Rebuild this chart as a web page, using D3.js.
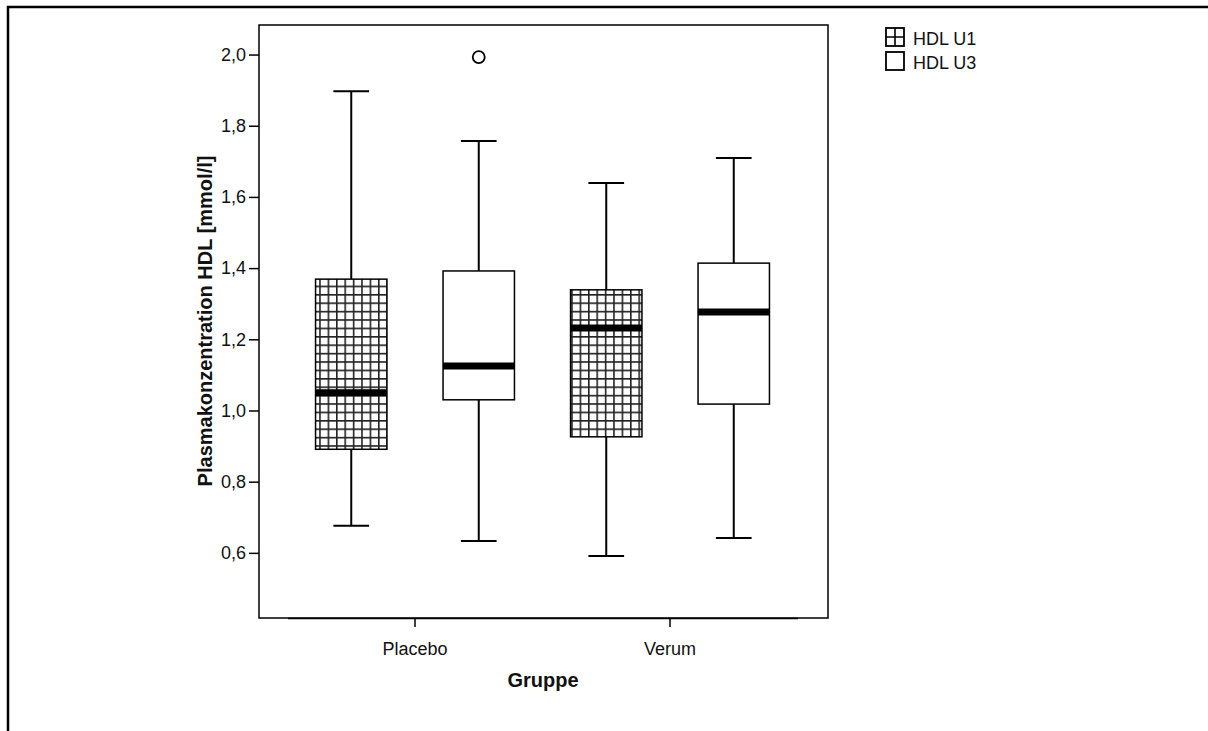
<!DOCTYPE html>
<html>
<head>
<meta charset="utf-8">
<script src="https://cdn.jsdelivr.net/npm/d3@7"></script>
<style>
body{margin:0;background:#fff}
text{font-family:Arial,"Liberation Sans",sans-serif;fill:#111}
</style>
</head>
<body>
<svg width="1208" height="731"></svg>
<script>
// data
const groups = ["Placebo", "Verum"];
const series = ["HDL U1", "HDL U3"];
const boxGroup = ["Placebo", "Placebo", "Verum", "Verum"];
const boxSeries = ["HDL U1", "HDL U3", "HDL U1", "HDL U3"];
const whiskerLow = [0.676, 0.633, 0.591, 0.642];
const q1 = [0.891, 1.030, 0.926, 1.018];
const median = [1.050, 1.125, 1.232, 1.277];
const q3 = [1.369, 1.392, 1.339, 1.414];
const whiskerHigh = [1.897, 1.757, 1.639, 1.709];
const outlierGroup = ["Placebo"];
const outlierSeries = ["HDL U3"];
const outlierValue = [1.993];
const yTicks = [0.6, 0.8, 1.0, 1.2, 1.4, 1.6, 1.8, 2.0];

const svg = d3.select("svg");
const font = "Arial, 'Liberation Sans', sans-serif";

// hatch pattern for U1
const defs = svg.append("defs");
const pat = defs.append("pattern").attr("id","grid")
  .attr("patternUnits","userSpaceOnUse").attr("width",8.4).attr("height",8.4);
pat.append("rect").attr("width",8.4).attr("height",8.4).attr("fill","#fff");
pat.append("path").attr("d","M0.8,0V8.4M0,0.8H8.4").attr("stroke","#222").attr("stroke-width",1.6);

const fills = {"HDL U1":"url(#grid)", "HDL U3":"#fff"};

// outer frame
svg.append("path").attr("d","M8,731V7H1208").attr("fill","none").attr("stroke","#000").attr("stroke-width",2.5);

const y = d3.scaleLinear().domain([0.417, 2.083]).range([618, 25]);
const x = d3.scaleBand().domain(groups).range([287.5, 797.5]);
const xs = d3.scaleBand().domain(series).range([0, x.bandwidth()]).paddingInner(0.44).paddingOuter(0.22);

// plot frame
svg.append("rect").attr("x",259).attr("y",25).attr("width",569).attr("height",593)
  .attr("fill","none").attr("stroke","#000").attr("stroke-width",1.5);

const yAxis = d3.axisLeft(y).tickValues(yTicks).tickSize(10).tickPadding(3)
  .tickFormat(d=>d3.format(".1f")(d).replace(".",","));
const gy = svg.append("g").attr("transform","translate(259,0)").call(yAxis);
gy.select(".domain").remove();
gy.selectAll("line").attr("stroke","#000").attr("stroke-width",1.5);
gy.selectAll("text").style("font-size","18px").style("font-family",font).attr("fill","#111");

const xAxis = d3.axisBottom(x).tickSize(9).tickSizeOuter(0).tickPadding(15);
const gx = svg.append("g").attr("transform","translate(0,618)").call(xAxis);
gx.select(".domain").attr("stroke","#000").attr("stroke-width",1.5);
gx.selectAll("line").attr("stroke","#000").attr("stroke-width",1.5);
gx.selectAll("text").style("font-size","18px").style("font-family",font).attr("fill","#111");

// boxes
const cx = i => x(boxGroup[i]) + xs(boxSeries[i]) + xs.bandwidth()/2;
const bw = xs.bandwidth();
const boxes = svg.append("g").selectAll("g").data(d3.range(boxGroup.length)).join("g");

boxes.append("line").attr("x1",cx).attr("x2",cx)
  .attr("y1",i=>y(whiskerHigh[i])).attr("y2",i=>y(q3[i]))
  .attr("stroke","#000").attr("stroke-width",2);
boxes.append("line").attr("x1",cx).attr("x2",cx)
  .attr("y1",i=>y(q1[i])).attr("y2",i=>y(whiskerLow[i]))
  .attr("stroke","#000").attr("stroke-width",2);
boxes.append("line").attr("x1",i=>cx(i)-bw/4).attr("x2",i=>cx(i)+bw/4)
  .attr("y1",i=>y(whiskerHigh[i])).attr("y2",i=>y(whiskerHigh[i]))
  .attr("stroke","#000").attr("stroke-width",2);
boxes.append("line").attr("x1",i=>cx(i)-bw/4).attr("x2",i=>cx(i)+bw/4)
  .attr("y1",i=>y(whiskerLow[i])).attr("y2",i=>y(whiskerLow[i]))
  .attr("stroke","#000").attr("stroke-width",2);
boxes.append("rect").attr("x",i=>cx(i)-bw/2).attr("width",bw)
  .attr("y",i=>y(q3[i])).attr("height",i=>y(q1[i])-y(q3[i]))
  .attr("fill",i=>fills[boxSeries[i]]).attr("stroke","#000").attr("stroke-width",1.5);
boxes.append("line").attr("x1",i=>cx(i)-bw/2).attr("x2",i=>cx(i)+bw/2)
  .attr("y1",i=>y(median[i])).attr("y2",i=>y(median[i]))
  .attr("stroke","#000").attr("stroke-width",7);

// outliers
svg.append("g").selectAll("circle").data(outlierValue).join("circle")
  .attr("cx",(d,i)=>x(outlierGroup[i]) + xs(outlierSeries[i]) + bw/2)
  .attr("cy",d=>y(d)).attr("r",6)
  .attr("fill","none").attr("stroke","#000").attr("stroke-width",1.8);

// axis titles
svg.append("text").attr("x",543).attr("y",687).attr("text-anchor","middle")
  .style("font-size","20px").style("font-weight","bold").text("Gruppe");
svg.append("text").attr("transform","translate(212,321) rotate(-90)").attr("text-anchor","middle")
  .style("font-size","20px").style("font-weight","bold").text("Plasmakonzentration HDL [mmol/l]");

// legend
const lg = svg.append("g").selectAll("g").data(series).join("g")
  .attr("transform",(d,i)=>`translate(886,${28 + i*24})`);
lg.append("rect").attr("width",18).attr("height",18)
  .attr("fill","#fff").attr("stroke","#000").attr("stroke-width",1.8);
lg.filter(d=>d==="HDL U1").append("path").attr("d","M9,0V18M0,9H18")
  .attr("stroke","#000").attr("stroke-width",1.6);
lg.append("text").attr("x",27).attr("y",17).style("font-size","18px").text(d=>d);
</script>
</body>
</html>
